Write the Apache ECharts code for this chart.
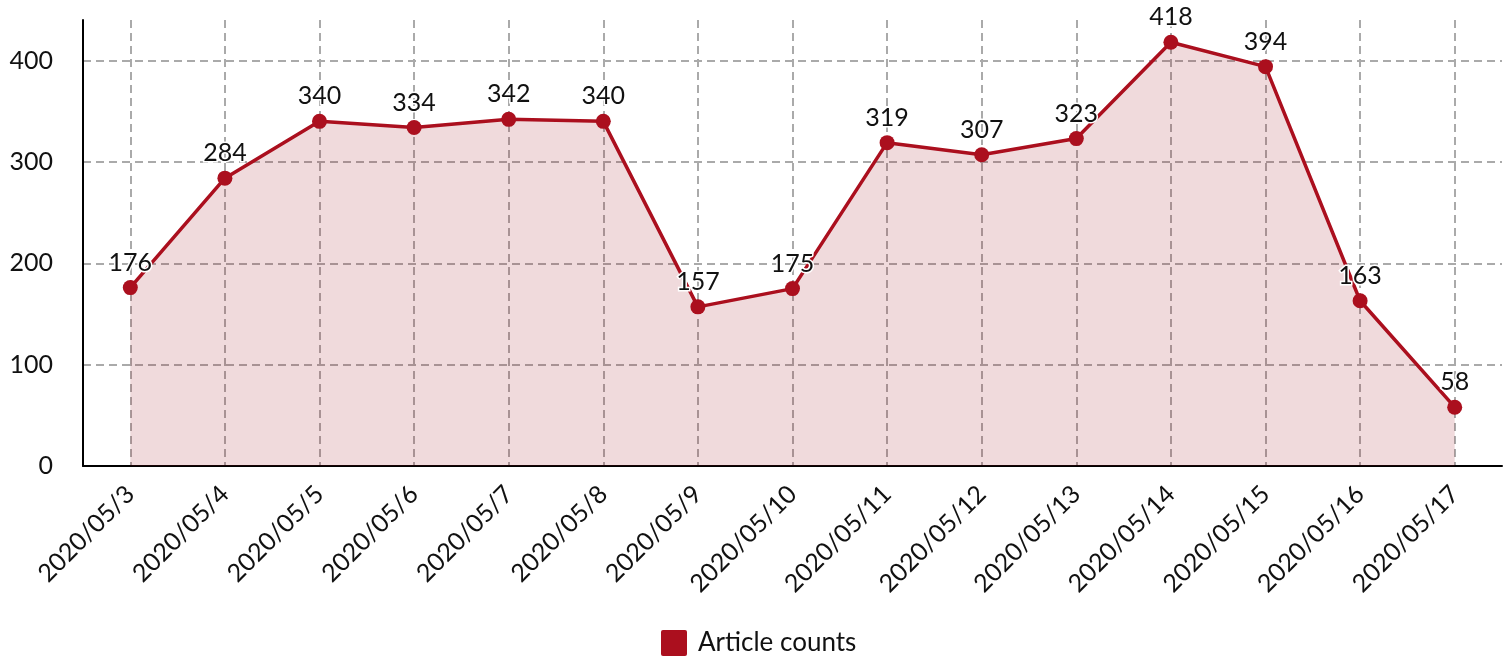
<!DOCTYPE html>
<html><head><meta charset="utf-8">
<script src="https://cdn.jsdelivr.net/npm/echarts@6/dist/echarts.min.js"></script>
<style>html,body{margin:0;padding:0;background:#fff}#c{width:1504px;height:656px}</style>
</head><body><div id="c"></div>
<script>
const categories = ['2020/05/3','2020/05/4','2020/05/5','2020/05/6','2020/05/7','2020/05/8','2020/05/9','2020/05/10','2020/05/11','2020/05/12','2020/05/13','2020/05/14','2020/05/15','2020/05/16','2020/05/17'];
const articleCounts = [176,284,340,334,342,340,157,175,319,307,323,418,394,163,58];
const seriesName = 'Article counts';

const chart = echarts.init(document.getElementById('c'), null, {renderer:'canvas'});
const F = 'Lato';
chart.setOption({
  animation:false,
  textStyle:{fontFamily:F},
  grid:{left:83,right:2,top:20,bottom:190},
  legend:{bottom:-5,left:656,itemWidth:26,itemHeight:26,itemGap:10,
    icon:'path://M2,0 L24,0 Q26,0 26,2 L26,24 Q26,26 24,26 L2,26 Q0,26 0,24 L0,2 Q0,0 2,0 Z',
    textStyle:{fontFamily:F,fontSize:26,color:'#111',padding:[0,0,0,6]},data:[seriesName]},
  xAxis:{type:'category',data:categories,boundaryGap:true,
    axisLine:{lineStyle:{color:'#000',width:2}},
    axisTick:{show:false,alignWithLabel:true},
    axisLabel:{rotate:45,fontFamily:F,fontSize:25,color:'#111',margin:24,interval:0},
    splitLine:{show:true,alignWithLabel:true,lineStyle:{color:'#aaa',width:2,type:[8,5]}}},
  yAxis:{type:'value',min:0,max:440,interval:100,
    axisLine:{show:true,lineStyle:{color:'#000',width:2}},
    axisTick:{show:false},
    axisLabel:{fontFamily:F,fontSize:25,color:'#111',margin:30,showMaxLabel:false,
      formatter:v=> v===440?'':String(v)},
    splitLine:{show:true,lineStyle:{color:['#aaa','#aaa','#aaa','#aaa','#aaa','rgba(0,0,0,0)'],width:2,type:[8,5]}}},
  series:[{name:seriesName,type:'line',data:articleCounts,
    symbol:'circle',symbolSize:15,
    itemStyle:{color:'#ab0f1e'},
    lineStyle:{color:'#ab0f1e',width:3.5},
    areaStyle:{color:'rgba(160,10,25,0.22)'},
    label:{show:true,position:'top',distance:5,fontFamily:F,fontSize:25,color:'#111',
      textBorderColor:'#fff',textBorderWidth:3}}]
});
</script></body></html>
